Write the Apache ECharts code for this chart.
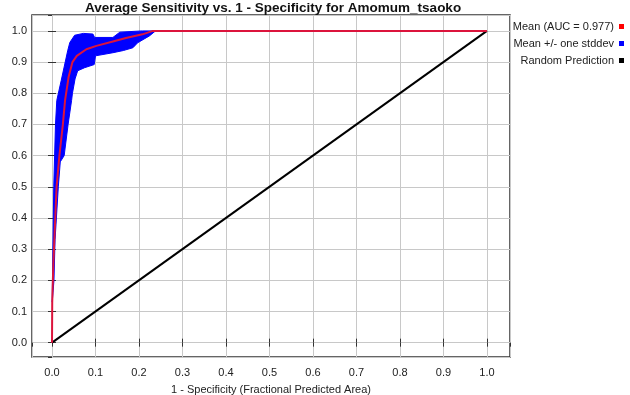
<!DOCTYPE html>
<html>
<head>
<meta charset="utf-8">
<script src="https://cdn.jsdelivr.net/npm/echarts@6/dist/echarts.min.js"></script>
<style>
  html, body { margin: 0; padding: 0; background: #fff; }
  #main { width: 630px; height: 395px; }
</style>
</head>
<body>
<div id="main"></div>
<script>
// values
var meanCurve = [
    [0, 0], [0.0005, 0.13], [0.003, 0.25], [0.0045, 0.3], [0.0075, 0.4], [0.0105, 0.5],
    [0.017, 0.6], [0.025, 0.7], [0.030, 0.777], [0.038, 0.851], [0.047, 0.9], [0.057, 0.92],
    [0.079, 0.941], [0.102, 0.952], [0.14, 0.966], [0.17, 0.977], [0.208, 0.989],
    [0.232, 1.0], [1.0, 1.0]
];
var upperBand = [
    [0.0005, 0.13], [0.002, 0.3], [0.004, 0.5], [0.006, 0.6], [0.008, 0.7], [0.011, 0.777],
    [0.021, 0.84], [0.036, 0.936], [0.041, 0.963], [0.052, 0.986], [0.072, 0.992],
    [0.094, 0.99], [0.098, 0.979], [0.14, 0.979], [0.156, 0.996], [0.208, 1.0], [0.238, 1.0]
];
var lowerBand = [
    [0.0005, 0.13], [0.0045, 0.2], [0.007, 0.33], [0.0145, 0.5], [0.019, 0.58], [0.028, 0.6],
    [0.037, 0.7], [0.045, 0.777], [0.047, 0.8], [0.053, 0.846], [0.059, 0.872],
    [0.075, 0.882], [0.097, 0.892], [0.1, 0.92], [0.14, 0.93], [0.164, 0.937],
    [0.186, 0.946], [0.197, 0.962], [0.224, 0.984], [0.238, 1.0]
];
var randomLine = [[0, 0], [1, 1]];
var legendNames = ['Mean (AUC = 0.977)', 'Mean +/- one stddev', 'Random Prediction'];

var fontFam = 'Liberation Sans, Arial, sans-serif';
var axisMin = -0.046, axisMax = 1.053;

function tickFmt(v) { return v.toFixed(1); }

var myChart = echarts.init(document.getElementById('main'));
myChart.setOption({
    animation: false,
    textStyle: { fontFamily: fontFam },
    title: {
        text: 'Average Sensitivity vs. 1 - Specificity for Amomum_tsaoko',
        left: 80, top: -1, padding: [2, 5],
        textStyle: { fontSize: 13.5, fontWeight: 'bold', color: '#111', fontFamily: fontFam }
    },
    legend: legendNames.map(function (n, i) {
        return {
            data: [{ name: n, icon: 'rect' }],
            right: 1, top: 16 + i * 17,
            align: 'right', itemWidth: 5, itemHeight: 5,
            textStyle: { fontSize: 11, color: '#222', fontFamily: fontFam }
        };
    }),
    grid: {
        left: 32, top: 15, right: 120, bottom: 38,
        outerBoundsMode: 'none', containLabel: false,
        show: true, borderColor: '#333', borderWidth: 1.5, backgroundColor: '#fff'
    },
    xAxis: [{
        type: 'value', min: axisMin, max: axisMax, splitNumber: 11, position: 'bottom',
        name: '1 - Specificity (Fractional Predicted Area)', nameLocation: 'middle', nameGap: 27,
        nameTextStyle: { fontSize: 11, color: '#222' },
        axisLine: { show: false },
        axisTick: { inside: true, length: 4, lineStyle: { color: '#333' } },
        axisLabel: { showMinLabel: false, showMaxLabel: false, formatter: tickFmt, margin: 10, fontSize: 11, color: '#222' },
        splitLine: { lineStyle: { color: '#c8c8c8' } }
    }, {
        type: 'value', min: axisMin, max: axisMax, splitNumber: 11, position: 'top',
        axisLine: { show: false },
        axisTick: { inside: true, length: 4, lineStyle: { color: '#333' } },
        axisLabel: { show: false }, splitLine: { show: false }
    }],
    yAxis: [{
        type: 'value', min: axisMin, max: 1.051, splitNumber: 11, position: 'left',
        name: 'Sensitivity (1 - Omission Rate)', nameLocation: 'middle', nameGap: 24,
        nameTextStyle: { fontSize: 11, color: '#222' },
        axisLine: { show: false },
        axisTick: { inside: true, length: 4, lineStyle: { color: '#333' } },
        axisLabel: { showMinLabel: false, showMaxLabel: false, formatter: tickFmt, margin: 5, fontSize: 11, color: '#222' },
        splitLine: { lineStyle: { color: '#c8c8c8' } }
    }, {
        type: 'value', min: axisMin, max: 1.051, splitNumber: 11, position: 'right',
        axisLine: { show: false },
        axisTick: { inside: true, length: 4, lineStyle: { color: '#333' } },
        axisLabel: { show: false }, splitLine: { show: false }
    }],
    series: [{
        name: legendNames[2], type: 'line', data: randomLine, showSymbol: false, symbol: 'none',
        itemStyle: { color: '#000' }, lineStyle: { color: '#000', width: 2 }, z: 2
    }, {
        name: legendNames[1], type: 'custom', data: [[0.1, 0.95]],
        itemStyle: { color: '#0000ff' }, z: 3,
        renderItem: function (params, api) {
            var pts = upperBand.map(function (p) { return api.coord(p); });
            var low = lowerBand.map(function (p) { return api.coord(p); }).reverse();
            return { type: 'polygon', shape: { points: pts.concat(low) }, style: { fill: '#0000ff', stroke: '#0000ff', lineWidth: 1 } };
        }
    }, {
        name: legendNames[0], type: 'line', data: meanCurve, showSymbol: false, symbol: 'none',
        itemStyle: { color: '#ff0000' }, lineStyle: { color: '#dc143c', width: 2 }, z: 4
    }]
});

window.addEventListener('resize', function () { myChart.resize(); });
</script>
</body>
</html>
